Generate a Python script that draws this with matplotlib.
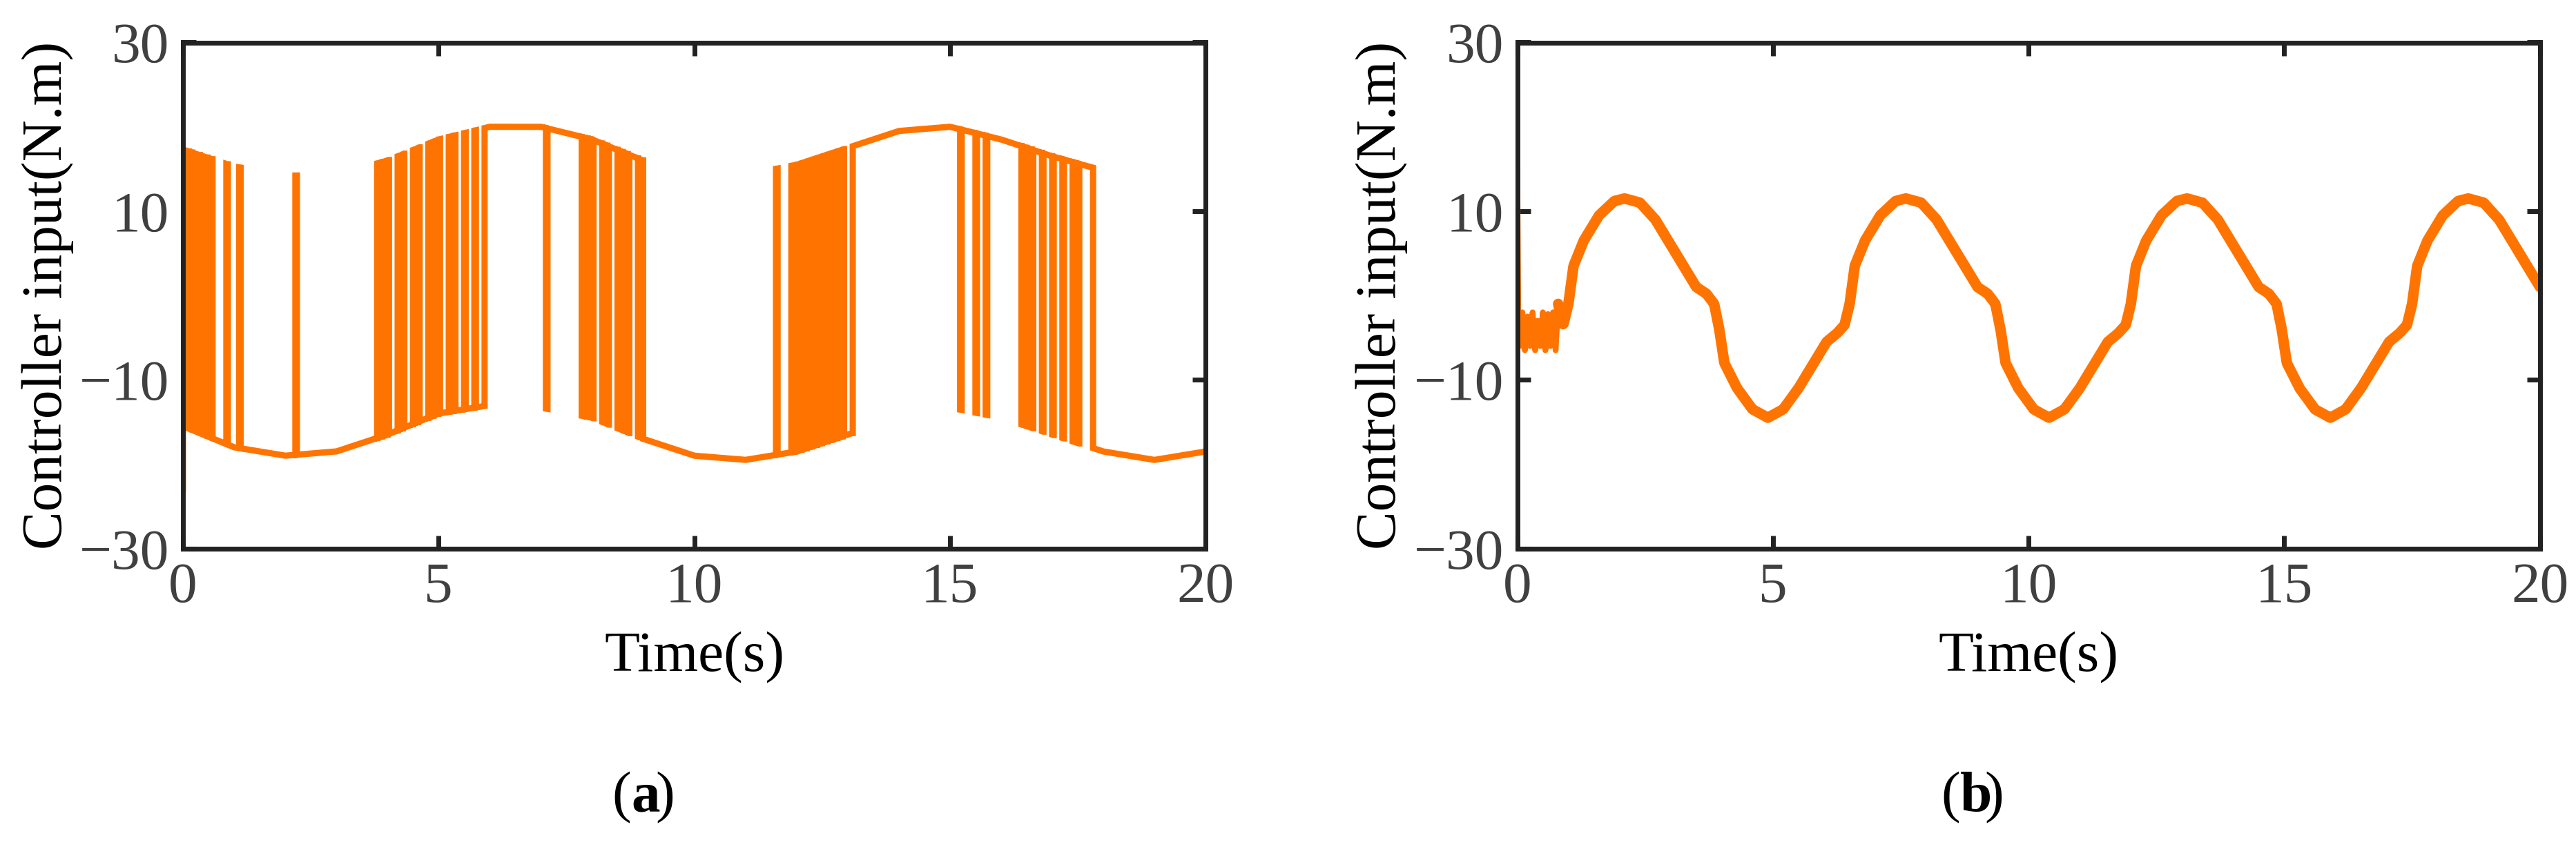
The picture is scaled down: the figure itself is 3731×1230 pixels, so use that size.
import numpy as np
import matplotlib
matplotlib.use("Agg")
import matplotlib.pyplot as plt

# ---- data (a) : envelopes of the switching controller and switch times ----
env_t = [0, 1, 2, 3, 4, 5, 6, 7, 8, 9, 10, 11, 12, 13, 14, 15, 16, 17, 18, 19, 20]
upper_v = [17.3, 15.3, 14.2, 14.3, 16, 18.5, 20, 20, 18.5, 16, 14.5, 14.3, 15.5, 17.5, 19.5, 20, 18.5, 16.5, 14.8, 14, 14]
lower_v = [-15.5, -18, -19, -18.5, -16.5, -14, -13, -13.3, -14.5, -17, -19, -19.5, -18.5, -16.5, -14.5, -13.3, -14.5, -16.5, -18.5, -19.5, -18.5]
# toggle times between lower and upper branch (state starts on upper at t=0)
toggles_a = [0.12, 0.15, 0.18, 0.3, 0.33, 0.45, 0.48, 0.55, 0.58, 0.85, 0.88, 1.1, 1.13, 2.2, 2.23,
             3.8, 3.83, 3.9, 3.93, 4.0, 4.03, 4.2, 4.23, 4.3, 4.33, 4.5, 4.53, 4.6, 4.63, 4.8, 4.83,
             4.9, 4.93, 5.0, 5.03, 5.2, 5.23, 5.3, 5.33, 5.5, 5.53, 5.7, 5.73, 5.9,
             7.1, 7.13, 7.8, 7.83, 7.9, 7.93, 8.0, 8.03, 8.2, 8.23, 8.3, 8.33, 8.5, 8.53, 8.6, 8.63,
             8.7, 8.73, 8.9, 8.93, 9.0,
             11.6, 11.63, 11.9, 11.93, 12.0, 12.03, 12.1, 12.13, 12.2, 12.23, 12.3, 12.33, 12.4, 12.43,
             12.5, 12.53, 12.6, 12.63, 12.7, 12.73, 12.8, 12.83, 12.9, 12.93, 13.1,
             15.2, 15.23, 15.5, 15.53, 15.7, 15.73, 16.4, 16.43, 16.5, 16.53, 16.6, 16.63, 16.8, 16.83,
             17.0, 17.03, 17.2, 17.23, 17.4, 17.43, 17.5, 17.53, 17.8]
start_dip = -23

# ---- data (b) : one period of the smooth control signal ----
cycle_off = [0, 0.3, 0.6, 0.9, 1.2, 1.4, 1.6, 1.75, 1.85, 1.95, 2.2, 2.5, 2.8, 3.1, 3.4, 3.7,
             3.95, 4.15, 4.3, 4.4, 4.5, 4.7, 5.0, 5.3]
cycle_val = [11.5, 11, 9, 6, 3, 1, 0.2, -1, -4, -8, -11, -13.5, -14.5, -13.5, -11, -8,
             -5.5, -4.5, -3.5, -1, 3.5, 6.5, 9.5, 11.2]
period_b = 5.5
first_peak = 2.1
chatter_t = [0, 0.02, 0.05, 0.1, 0.15, 0.2, 0.25, 0.3, 0.35, 0.4, 0.45, 0.5, 0.55, 0.6, 0.65, 0.7, 0.75, 0.8]
chatter_v = [15, -3, -6, -2, -6.5, -2.5, -6, -2, -6.5, -3, -6, -2, -6.5, -2.2, -6, -2, -6.5, -1]

orange = "#FF7400"
tc = "#404040"
plt.rcParams['font.family'] = ['Liberation Serif', 'DejaVu Serif']

fig = plt.figure(figsize=(37.31, 12.30), dpi=100)
axa = fig.add_axes([0.071, 0.354, 0.397, 0.596])
axb = fig.add_axes([0.589, 0.354, 0.397, 0.596])

# build signal (a)
tt = np.arange(0, 20.0005, 0.005)
up = np.interp(tt, env_t, upper_v)
lo = np.interp(tt, env_t, lower_v)
state = np.searchsorted(np.array(toggles_a), tt, side='right') % 2 == 0
ya = np.where(state, up, lo)
xs, ys = [], []
for i in range(len(tt)):
    if i > 0 and state[i] != state[i - 1]:
        xs.append(tt[i]); ys.append(ya[i - 1])
    xs.append(tt[i]); ys.append(ya[i])
xs = [0.0] + xs; ys = [start_dip] + ys
axa.plot(xs, ys, color=orange, lw=6.5, solid_joinstyle='miter')

# build signal (b)
bt, bv = list(chatter_t), list(chatter_v)
k = -1
while True:
    base = first_peak + k * period_b
    done = False
    for o, v in zip(cycle_off, cycle_val):
        t = base + o
        if t <= chatter_t[-1]:
            continue
        if t > 20:
            done = True
            break
        bt.append(t); bv.append(v)
    if done:
        break
    k += 1
bt_f = np.linspace(chatter_t[-1], 20, 2000)
bv_f = np.interp(bt_f, bt, bv)
axb.plot(bt[:len(chatter_t)], bv[:len(chatter_t)], color=orange, lw=6)
axb.plot(bt_f, bv_f, color=orange, lw=11, solid_capstyle='round')

for ax in (axa, axb):
    ax.set_xlim(0, 20)
    ax.set_ylim(-30, 30)
    ax.set_xticks([0, 5, 10, 15, 20])
    ax.set_yticks([-30, -10, 10, 30])
    ax.set_yticklabels(['\u221230', '\u221210', '10', '30'])
    ax.tick_params(direction='in', length=14, width=5, top=True, right=True,
                   labelsize=60, labelcolor=tc, color='#222222', pad=14)
    for s in ax.spines.values():
        s.set_linewidth(5)
        s.set_color('#222222')
    ax.set_xlabel('Time(s)', fontsize=60, color='black', labelpad=18)
    ax.set_ylabel('Controller input(N.m)', fontsize=60, color='black', labelpad=6)

for cx, letter in ((0.245, 'a'), (0.761, 'b')):
    fig.text(cx, 0.03, '(', fontsize=60, ha='right', va='bottom')
    fig.text(cx, 0.03, letter, fontsize=60, ha='left', va='bottom', fontweight='bold')
    fig.text(cx + 0.0095, 0.03, ')', fontsize=60, ha='left', va='bottom')

fig.savefig('out.png', dpi=100)
